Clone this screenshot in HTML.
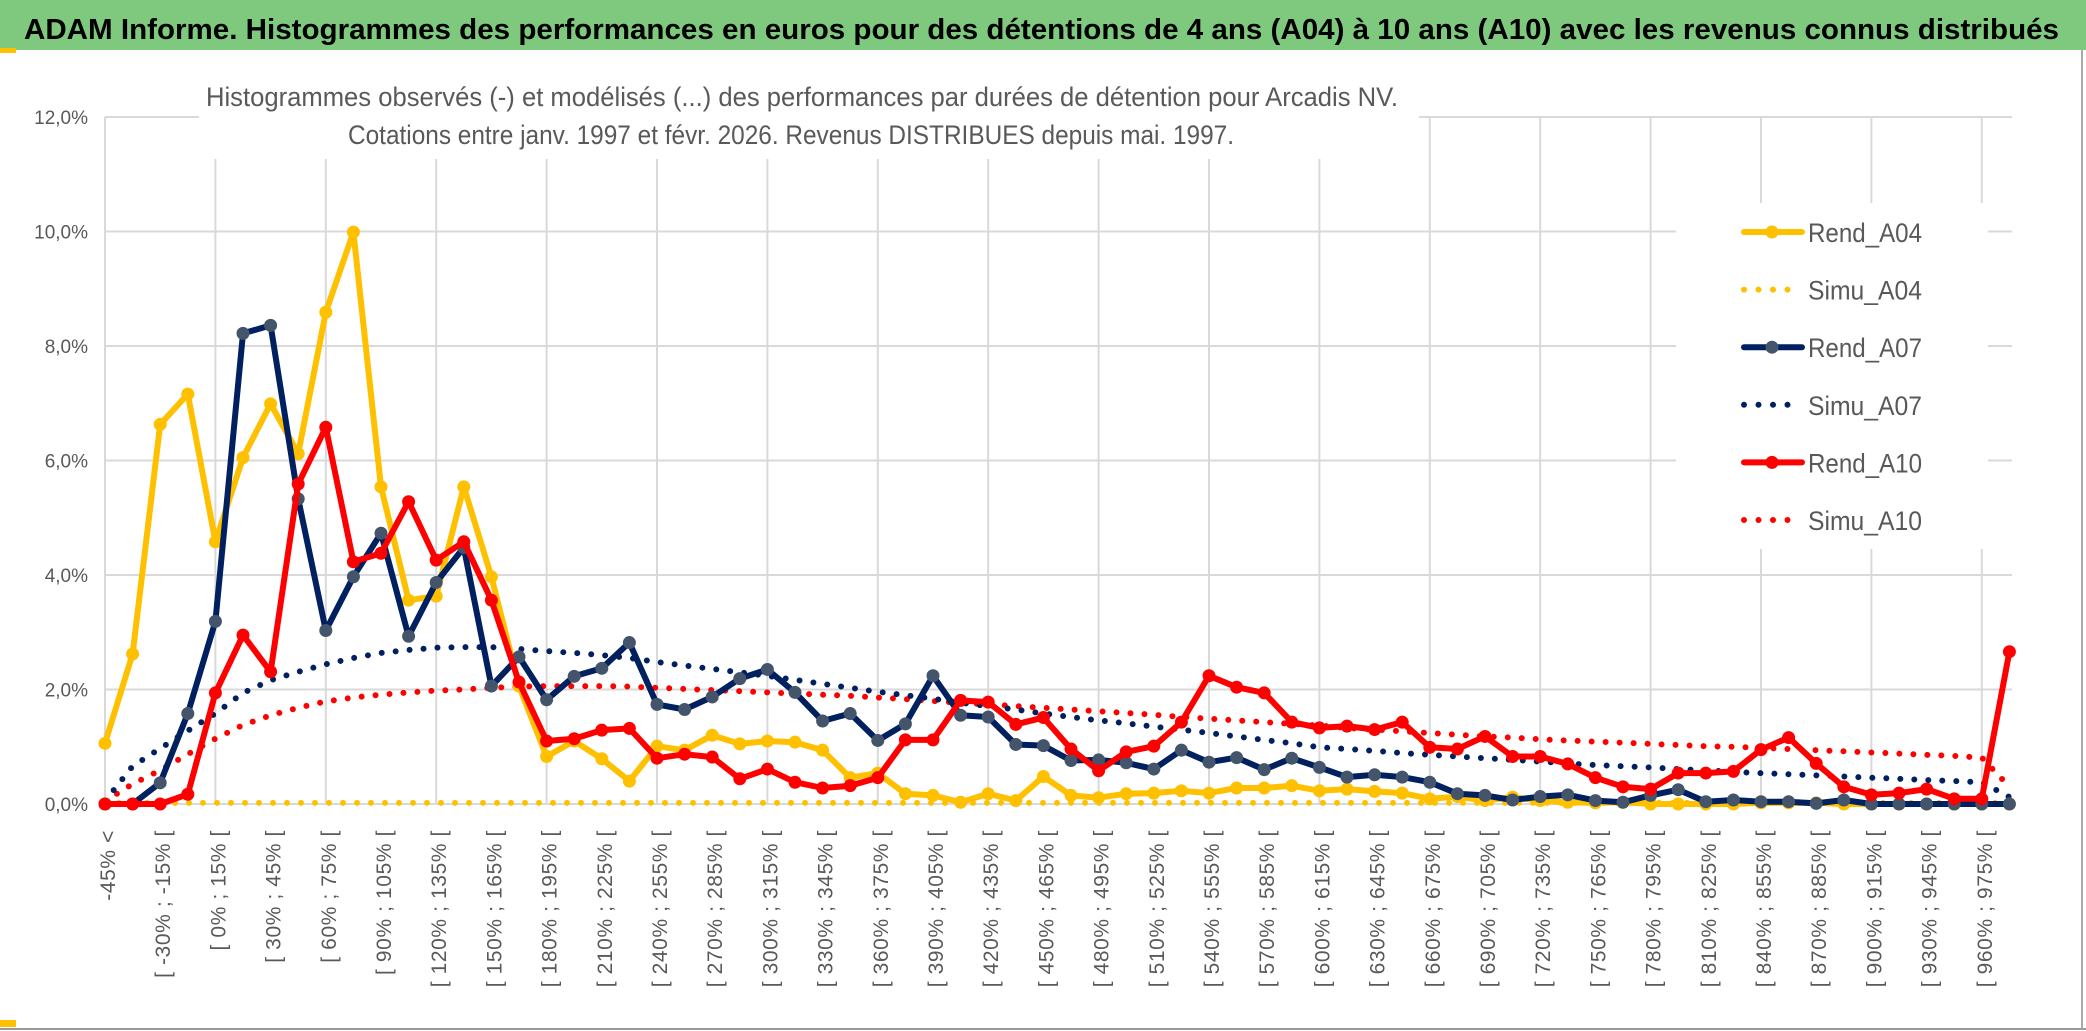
<!DOCTYPE html>
<html><head><meta charset="utf-8"><style>
html,body{margin:0;padding:0;background:#fff;}
svg{display:block;}
</style></head><body>
<svg id="chart" width="2086" height="1031" xmlns="http://www.w3.org/2000/svg" font-family="'Liberation Sans', sans-serif">
<rect x="0" y="0" width="2086" height="1031" fill="#fff"/>
<rect x="0" y="0" width="2086" height="50" fill="#7fc97f"/>
<text x="24" y="39" font-size="29" font-weight="bold" fill="#000" textLength="2035" lengthAdjust="spacingAndGlyphs">ADAM Informe. Histogrammes des performances en euros pour des détentions de 4 ans (A04) à 10 ans (A10) avec les revenus connus distribués</text>
<rect x="0" y="48" width="16" height="5" fill="#ffc000"/>
<rect x="0" y="1020" width="16" height="7" fill="#ffc000"/>
<line x1="0" y1="1029" x2="2086" y2="1029" stroke="#999" stroke-width="2"/>
<line x1="2082" y1="50" x2="2082" y2="1029" stroke="#aaa" stroke-width="2"/>
<g id="grid"></g>
<rect x="199" y="60" width="1220" height="99" fill="#fff"/>
<text x="206" y="106" font-size="27" fill="#595959" textLength="1192" lengthAdjust="spacingAndGlyphs">Histogrammes observés (-) et modélisés (...) des performances par durées de détention pour Arcadis NV.</text>
<text x="348" y="144" font-size="27" fill="#595959" textLength="886" lengthAdjust="spacingAndGlyphs">Cotations entre janv. 1997 et févr. 2026. Revenus DISTRIBUES depuis mai. 1997.</text>
<g id="yaxis"></g>
<g id="xaxis"></g>
<g id="series"></g>
<rect x="1676" y="203" width="312" height="346" fill="#fff"/>
<g id="legend"></g>
</svg>
<script>
const categories = [];
const rendA04 = [1.06,2.62,6.63,7.16,4.58,6.05,6.99,6.12,8.59,9.99,5.54,3.56,3.63,5.54,3.97,2.06,0.83,1.1,0.79,0.40,1.01,0.94,1.20,1.05,1.10,1.08,0.94,0.46,0.54,0.18,0.15,0.03,0.18,0.06,0.48,0.15,0.11,0.18,0.19,0.23,0.19,0.28,0.28,0.32,0.23,0.26,0.22,0.19,0.09,0.13,0.06,0.12,0.06,0.03,0.02,0.03,0.0,0.0,0.0,0.0,0.02,0.02,0.02,0.0,0.0,0.0,0.0,0.0,0.0,0.0];
const simuA04 = [0.02,0.02,0.02,0.02,0.02,0.02,0.02,0.02,0.02,0.02,0.02,0.02,0.02,0.02,0.02,0.02,0.02,0.02,0.02,0.02,0.02,0.02,0.02,0.02,0.02,0.02,0.02,0.02,0.02,0.02,0.02,0.02,0.02,0.02,0.02,0.02,0.02,0.02,0.02,0.02,0.02,0.02,0.02,0.02,0.02,0.02,0.02,0.02,0.02,0.02,0.02,0.02,0.02,0.02,0.02,0.02,0.02,0.02,0.02,0.02,0.02,0.02,0.02,0.02,0.02,0.02,0.02,0.02,0.02,0.02];
const rendA07 = [0,0,0.37,1.58,3.19,8.22,8.36,5.33,3.03,3.97,4.73,2.93,3.87,4.48,2.06,2.57,1.82,2.23,2.37,2.82,1.74,1.65,1.87,2.19,2.35,1.95,1.45,1.58,1.11,1.40,2.24,1.55,1.52,1.04,1.02,0.76,0.77,0.72,0.61,0.94,0.73,0.81,0.60,0.80,0.64,0.47,0.51,0.47,0.38,0.18,0.15,0.07,0.13,0.16,0.06,0.03,0.15,0.25,0.04,0.07,0.04,0.04,0.01,0.07,0,0,0,0,0,0];
const simuA07 = [0.05,0.66,0.97,1.28,1.58,1.94,2.16,2.31,2.44,2.55,2.64,2.69,2.73,2.74,2.74,2.71,2.67,2.64,2.6,2.55,2.48,2.42,2.36,2.3,2.24,2.17,2.1,2.03,1.96,1.9,1.84,1.77,1.71,1.65,1.58,1.52,1.46,1.41,1.35,1.3,1.24,1.18,1.12,1.06,0.99,0.96,0.93,0.89,0.86,0.83,0.80,0.77,0.74,0.71,0.68,0.66,0.64,0.61,0.59,0.56,0.54,0.52,0.5,0.48,0.46,0.44,0.42,0.40,0.38,0.12];
const rendA10 = [0,0,0,0.17,1.94,2.95,2.31,5.59,6.58,4.23,4.38,5.28,4.26,4.58,3.56,2.13,1.1,1.14,1.29,1.32,0.80,0.87,0.82,0.44,0.61,0.38,0.28,0.32,0.46,1.12,1.12,1.81,1.78,1.39,1.51,0.96,0.58,0.91,1.01,1.43,2.24,2.04,1.94,1.43,1.33,1.36,1.30,1.43,0.99,0.96,1.18,0.83,0.83,0.70,0.46,0.30,0.26,0.54,0.54,0.57,0.95,1.16,0.71,0.30,0.16,0.19,0.26,0.09,0.09,2.66];
const simuA10 = [0.05,0.35,0.59,0.87,1.14,1.38,1.55,1.68,1.79,1.86,1.91,1.95,1.98,2.0,2.03,2.05,2.06,2.06,2.06,2.05,2.03,2.01,1.99,1.97,1.95,1.93,1.91,1.89,1.86,1.83,1.80,1.77,1.74,1.71,1.68,1.65,1.62,1.59,1.56,1.52,1.49,1.46,1.43,1.40,1.37,1.33,1.30,1.27,1.24,1.21,1.18,1.16,1.13,1.11,1.09,1.07,1.05,1.03,1.01,1.0,0.98,0.96,0.94,0.92,0.9,0.88,0.86,0.84,0.81,0.3];
const yTicks = [0,2,4,6,8,10,12];
const yTickLabels = ["0,0%","2,0%","4,0%","6,0%","8,0%","10,0%","12,0%"];
const seriesNames = ["Rend_A04","Simu_A04","Rend_A07","Simu_A07","Rend_A10","Simu_A10"];

categories.push("-45% <");
for (let k = 1; k < 70; k++) { const lo = -45 + (k - 1) * 15; categories.push("[ " + lo + "% ; " + (lo + 15) + "% ["); }

const NS = "http://www.w3.org/2000/svg";
const X0 = 105, DX = 27.6, Y0 = 804, PY = 57.25;
function xs(i){ return X0 + i * DX; }
function ys(v){ return Y0 - v * PY; }
function mk(tag, attrs, parent){ const e = document.createElementNS(NS, tag); for (const k in attrs) e.setAttribute(k, attrs[k]); parent.appendChild(e); return e; }

const grid = document.getElementById('grid');
yTicks.forEach(t => {
  const l = mk('line', {x1: X0, x2: 2012, y1: ys(t), y2: ys(t), stroke: '#d9d9d9', 'stroke-width': 2}, grid);
  
  
});
for (let i = 0; i < categories.length; i += 4) {
  const l = mk('line', {x1: xs(i), x2: xs(i), y1: ys(12), y2: Y0, stroke: '#d9d9d9', 'stroke-width': 2}, grid);
  
  
}
const ya = document.getElementById('yaxis');
yTicks.forEach((t, i) => {
  const tx = mk('text', {x: 88, y: ys(t) + 7, 'text-anchor': 'end', 'font-size': 19, fill: '#595959'}, ya);
  tx.textContent = yTickLabels[i];
  
  
});
const xa = document.getElementById('xaxis');
categories.forEach((c, i) => {
  if (i % 2 !== 0) return;
  const x = xs(i) + 10, y = 830;
  const tx = mk('text', {x: x, y: y, 'text-anchor': 'end', 'font-size': 21, 'letter-spacing': '0.6', fill: '#595959', transform: 'rotate(-90 ' + x + ' ' + y + ')'}, xa);
  tx.textContent = c;
  
  
});

const sg = document.getElementById('series');
function pts(arr){ return arr.map((v, i) => xs(i).toFixed(1) + ',' + ys(v).toFixed(1)).join(' '); }
function dotted(arr, color, name){
  const p = mk('polyline', {points: pts(arr), fill: 'none', stroke: color, 'stroke-width': 6, 'stroke-linecap': 'round', 'stroke-dasharray': '0 14'}, sg);
  
  
}
function solid(arr, color, mcolor, name){
  const p = mk('polyline', {points: pts(arr), fill: 'none', stroke: color, 'stroke-width': 6, 'stroke-linejoin': 'round'}, sg);
  
  
  arr.forEach((v, i) => {
    const c = mk('circle', {cx: xs(i), cy: ys(v), r: 6.5, fill: mcolor}, sg);
    
    
  });
}
dotted(simuA04, '#ffc000', 'simu-a04-line');
dotted(simuA10, '#ff0000', 'simu-a10-line');
dotted(simuA07, '#002060', 'simu-a07-line');
solid(rendA04, '#ffc000', '#ffc000', 'rend-a04-line');
solid(rendA07, '#002060', '#44546a', 'rend-a07-line');
solid(rendA10, '#ff0000', '#ff0000', 'rend-a10-line');

const lg = document.getElementById('legend');
const legColors = ['#ffc000','#ffc000','#002060','#002060','#ff0000','#ff0000'];
const legMark = ['#ffc000',null,'#44546a',null,'#ff0000',null];
seriesNames.forEach((n, i) => {
  const cy = 232 + i * 57.6;
  const g = mk('g', {}, lg);
  
  
  if (i % 2 === 0) {
    mk('line', {x1: 1744, x2: 1802, y1: cy, y2: cy, stroke: legColors[i], 'stroke-width': 6, 'stroke-linecap': 'round'}, g);
    mk('circle', {cx: 1772, cy: cy, r: 6.5, fill: legMark[i]}, g);
  } else {
    mk('line', {x1: 1744, x2: 1802, y1: cy, y2: cy, stroke: legColors[i], 'stroke-width': 6, 'stroke-linecap': 'round', 'stroke-dasharray': '0 14.5'}, g);
  }
  const t = mk('text', {x: 1808, y: cy + 10, 'font-size': 27, fill: '#595959', textLength: 114, lengthAdjust: 'spacingAndGlyphs'}, g);
  t.textContent = n;
});
</script>
</body></html>
